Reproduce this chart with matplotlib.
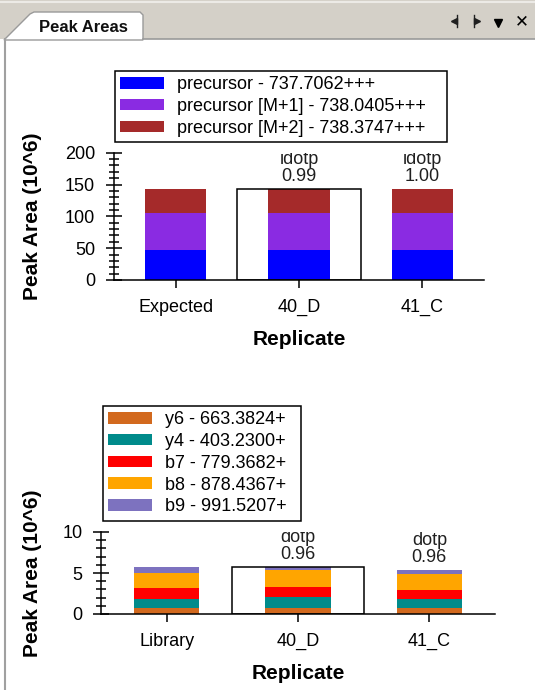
import matplotlib
matplotlib.use("Agg")
import matplotlib.pyplot as plt
from matplotlib.patches import Patch, Rectangle, Polygon
from matplotlib.lines import Line2D
from matplotlib.ticker import MultipleLocator

plt.rcParams['font.family'] = ['Liberation Sans', 'DejaVu Sans']

# ---------------- data ----------------
top_categories = ["Expected", "40_D", "41_C"]
top_series_names = ["precursor - 737.7062+++",
                    "precursor [M+1] - 738.0405+++",
                    "precursor [M+2] - 738.3747+++"]
top_precursor = [47.6, 47.6, 47.6]
top_m1 = [57.6, 57.6, 57.6]
top_m2 = [37.8, 37.8, 37.8]
top_colors = ["#0000FF", "#8A2BE2", "#A52A2A"]
top_scores = ["", "idotp\n0.99", "idotp\n1.00"]
top_selected = 1

bot_categories = ["Library", "40_D", "41_C"]
bot_series_names = ["y6 - 663.3824+", "y4 - 403.2300+", "b7 - 779.3682+",
                    "b8 - 878.4367+", "b9 - 991.5207+"]
bot_y6 = [0.69, 0.69, 0.69]
bot_y4 = [1.14, 1.34, 1.14]
bot_b7 = [1.30, 1.30, 1.14]
bot_b8 = [1.87, 2.04, 1.87]
bot_b9 = [0.69, 0.40, 0.53]
bot_colors = ["#D2691E", "#008B8B", "#FF0000", "#FFA500", "#7D72BF"]
bot_scores = ["", "dotp\n0.96", "dotp\n0.96"]
bot_selected = 1

ylabel = "Peak Area (10^6)"
xlabel = "Replicate"
title_tab = "Peak Areas"

# ---------------- figure ----------------
W, H = 535, 690
fig = plt.figure(figsize=(W / 100, H / 100), dpi=100)
fig.patch.set_facecolor("white")


def fx(px):
    return px / W


def fy(py):
    return 1 - py / H


# window chrome
fig.add_artist(Rectangle((0, fy(39)), 1, 39 / H, transform=fig.transFigure,
                         facecolor="#D4D0C8", edgecolor="none", zorder=0))
fig.add_artist(Line2D([fx(0), fx(W)], [fy(1.5), fy(1.5)], transform=fig.transFigure,
                      color="#ECEAE6", lw=1.5))
fig.add_artist(Line2D([fx(143), fx(W)], [fy(39), fy(39)], transform=fig.transFigure,
                      color="#9A9A9A", lw=1.2))
tab = Polygon([(fx(4), fy(40)), (fx(30), fy(14)), (fx(34), fy(12)), (fx(140), fy(12)),
               (fx(143), fy(15)), (fx(143), fy(40))], closed=True,
              transform=fig.transFigure, facecolor="white", edgecolor="#9A9A9A",
              lw=1.0, zorder=1)
fig.add_artist(tab)
fig.text(fx(39), fy(27), title_tab, fontsize=12, fontweight="bold",
         ha="left", va="center", color="#101010")
fig.add_artist(Line2D([fx(5), fx(5)], [fy(39), fy(H)], transform=fig.transFigure,
                      color="#A0A0A0", lw=1.5))
# window buttons
fig.add_artist(Line2D([fx(457), fx(457)], [fy(15), fy(27)], transform=fig.transFigure,
                      color="#202020", lw=1.0))
fig.add_artist(Line2D([fx(454)], [fy(21)], transform=fig.transFigure, marker="<",
                      markersize=4, color="#202020", lw=0))
fig.add_artist(Line2D([fx(474), fx(474)], [fy(15), fy(27)], transform=fig.transFigure,
                      color="#202020", lw=1.0))
fig.add_artist(Line2D([fx(477)], [fy(21)], transform=fig.transFigure, marker=">",
                      markersize=4, color="#202020", lw=0))
fig.add_artist(Line2D([fx(498)], [fy(23)], transform=fig.transFigure, marker="v",
                      markersize=6, color="#000000", lw=0))
fig.text(fx(522), fy(21.5), "✕", family="DejaVu Sans", fontsize=12, fontweight="bold",
         ha="center", va="center", color="#000000")


def style_axes(ax, ymax, major, minor, xlim):
    ax.set_xlim(*xlim)
    ax.set_ylim(0, ymax)
    for s in ("top", "right"):
        ax.spines[s].set_visible(False)
    for s in ("left", "bottom"):
        ax.spines[s].set_linewidth(1.1)
    ax.yaxis.set_major_locator(MultipleLocator(major))
    ax.yaxis.set_minor_locator(MultipleLocator(minor))
    ax.tick_params(axis="y", which="major", direction="inout", length=11, width=1.1,
                   labelsize=13, pad=8)
    ax.tick_params(axis="y", which="minor", direction="inout", length=6.5, width=1.1)
    ax.tick_params(axis="x", which="major", direction="inout", length=11.5, width=1.1,
                   labelsize=13, pad=8)
    ax.tick_params(axis="x", which="minor", bottom=False)


def draw_stack(ax, cats, series, colors, names, scores, selected, ymax, major, minor,
               legend_box, xlabel_y, ylabel_x):
    x = list(range(len(cats)))
    bottoms = [0.0] * len(cats)
    for vals, col, name in zip(series, colors, names):
        ax.bar(x, vals, width=0.5, bottom=bottoms, color=col, edgecolor="none",
               label=name, zorder=2)
        bottoms = [b + v for b, v in zip(bottoms, vals)]
    totals = bottoms
    # selected replicate frame
    ax.bar([x[selected]], [totals[selected]], width=1.0, facecolor="none",
           edgecolor="black", linewidth=1.1, zorder=3)
    for xi, tot, s in zip(x, totals, scores):
        if s:
            t = ax.annotate(s, (xi, tot), xytext=(0, 3), textcoords="offset points",
                            ha="center", va="bottom", fontsize=13, color="#202020",
                            linespacing=1.0, annotation_clip=False)
            t.set_clip_on(True)
            t.set_clip_box(ax.bbox)
    style_axes(ax, ymax, major, minor, (-0.5, len(cats) - 0.5))
    ax.set_xticks(x)
    ax.set_xticklabels(cats)
    ax.set_xlabel(xlabel, fontsize=15, fontweight="bold")
    ax.xaxis.set_label_coords(0.5, xlabel_y)
    ax.set_ylabel(ylabel, fontsize=15, fontweight="bold")
    ax.yaxis.set_label_coords(ylabel_x, 0.5)
    ax.yaxis.label.set_va("center")
    handles = [Patch(facecolor=c, edgecolor="none") for c in colors]
    bx, by, bw = legend_box
    leg = ax.legend(handles, names, loc="upper left", mode="expand",
                    bbox_to_anchor=(fx(bx), fy(by) - 0.2, bw / W, 0.2),
                    bbox_transform=fig.transFigure, borderaxespad=0, fontsize=13,
                    frameon=True, fancybox=False, framealpha=1, edgecolor="black",
                    handlelength=2.4, handleheight=0.6, handletextpad=0.75,
                    labelspacing=0.26, borderpad=0.3)
    leg.get_frame().set_linewidth(1.1)


# top axes: x 114..484, y(0)=280, y(200)=152.7
ax1 = fig.add_axes([fx(114), fy(280), (484 - 114) / W, (280 - 152.7) / H])
draw_stack(ax1, top_categories, [top_precursor, top_m1, top_m2], top_colors,
           top_series_names, top_scores, top_selected, 200, 50, 10,
           (115, 71, 332), -0.392, -0.2216)

# bottom axes: x 101..495, y(0)=614, y(10)=532
ax2 = fig.add_axes([fx(101), fy(614), (495 - 101) / W, (614 - 532) / H])
draw_stack(ax2, bot_categories, [bot_y6, bot_y4, bot_b7, bot_b8, bot_b9], bot_colors,
           bot_series_names, bot_scores, bot_selected, 10, 5, 1,
           (103, 406, 198), -0.609, -0.1751)

fig.savefig("out.png", dpi=100)
